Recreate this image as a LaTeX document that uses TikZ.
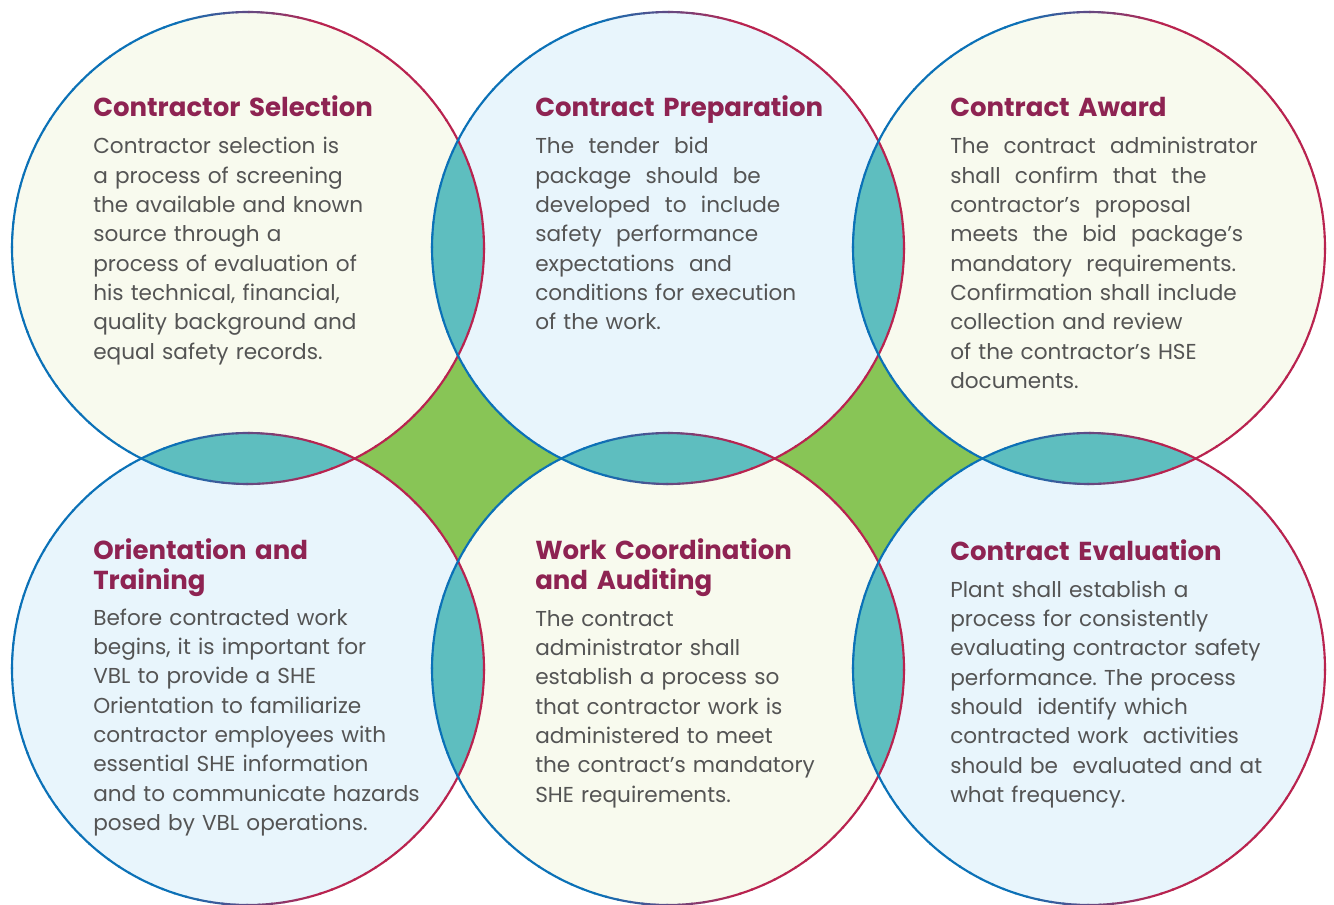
\documentclass[tikz,border=0pt]{standalone}
\usepackage{fontspec}
\setmainfont{Poppins}
\usepackage{xcolor}
\usepackage{tikz}
\definecolor{ringblue}{HTML}{0B71B7}
\definecolor{ringred}{HTML}{B9234F}
\definecolor{fillcream}{HTML}{F8FAEE}
\definecolor{fillsky}{HTML}{E8F5FC}
\definecolor{lensteal}{HTML}{5EBEBF}
\definecolor{gapgreen}{HTML}{88C556}
\definecolor{headplum}{HTML}{8E2352}
\definecolor{bodygrey}{HTML}{545454}
\frenchspacing

\begin{document}
\begin{tikzpicture}[x=0.75pt, y=-0.75pt,
    head/.style={anchor=base west, inner sep=0pt, text width=300pt, align=left, text=headplum, font=\fontsize{19.5}{22.5}\selectfont\bfseries},
    body/.style={anchor=base west, inner sep=0pt, text width=300pt, align=left, text=bodygrey, font=\fontsize{16.2}{22}\selectfont}]
    \useasboundingbox (0,0) rectangle (1334,905);
    \def\rad{236}
    % circle centres
    \coordinate (sel) at (248,248);
    \coordinate (prep) at (668,248);
    \coordinate (award) at (1089,248);
    \coordinate (orient) at (248,669);
    \coordinate (coord) at (668,669);
    \coordinate (eval) at (1089,669);

    % green gaps between four circles
    \fill[gapgreen] (sel) rectangle (coord);
    \fill[gapgreen] (prep) rectangle (eval);

    % discs
    \foreach \c/\f in {sel/fillcream, prep/fillsky, award/fillcream, orient/fillsky, coord/fillcream, eval/fillsky}
        \fill[\f] (\c) circle[radius=\rad];

    % overlaps
    \foreach \a/\b in {sel/prep, prep/award, orient/coord, coord/eval, sel/orient, prep/coord, award/eval}{
        \begin{scope}
            \clip (\a) circle[radius=\rad];
            \fill[lensteal] (\b) circle[radius=\rad];
        \end{scope}
    }

    % rims, blue on the left and red on the right
    \foreach \c in {sel, prep, award, orient, coord, eval}
        \foreach \t in {0,3,...,357}{
            \pgfmathsetmacro\mixred{max(0,min(100,50+170*cos(\t+1.5)))}
            \draw[line width=1.6pt, color=ringred!\mixred!ringblue] (\c) ++(\t:\rad) arc[start angle=\t, end angle=\t+3.4, radius=\rad];
        }

    % texts
    \node[head] (selhead) at (93,117) {Contractor Selection};
    \node[body] (seltext) at (93,154) {Contractor selection is\\
        a process of screening\\
        the available and known\\
        source through a\\
        process of evaluation of\\
        his technical, financial,\\
        quality background and\\
        equal safety records.};

    \node[head] (prephead) at (535,117) {Contract Preparation};
    \node[body] (preptext) at (535,154) {The~ tender~ bid\\
        package~ should~ be\\
        developed~ to~ include\\
        safety~ performance\\
        expectations~ and\\
        conditions for execution\\
        of the work.};

    \node[head] (awardhead) at (950,117) {Contract Award};
    \node[body] (awardtext) at (950,154) {The~ contract~ administrator\\
        shall~ confirm~ that~ the\\
        contractor’s~ proposal\\
        meets~ the~ bid~ package’s\\
        mandatory~ requirements.\\
        Confirmation shall include\\
        collection and review\\
        of the contractor’s HSE\\
        documents.};

    \node[head] (orienthead) at (93,559) {Orientation and\\Training};
    \node[body] (orienttext) at (93,625) {Before contracted work\\
        begins, it is important for\\
        VBL to provide a SHE\\
        Orientation to familiarize\\
        contractor employees with\\
        essential SHE information\\
        and to communicate hazards\\
        posed by VBL operations.};

    \node[head] (coordhead) at (535,559) {Work Coordination\\and Auditing};
    \node[body] (coordtext) at (535,626) {The contract\\
        administrator shall\\
        establish a process so\\
        that contractor work is\\
        administered to meet\\
        the contract’s mandatory\\
        SHE requirements.};

    \node[head] (evalhead) at (950,560) {Contract Evaluation};
    \node[body] (evaltext) at (950,597) {Plant shall establish a\\
        process for consistently\\
        evaluating contractor safety\\
        performance. The process\\
        should~ identify which\\
        contracted work~ activities\\
        should be~ evaluated and at\\
        what frequency.};
\end{tikzpicture}
\end{document}
